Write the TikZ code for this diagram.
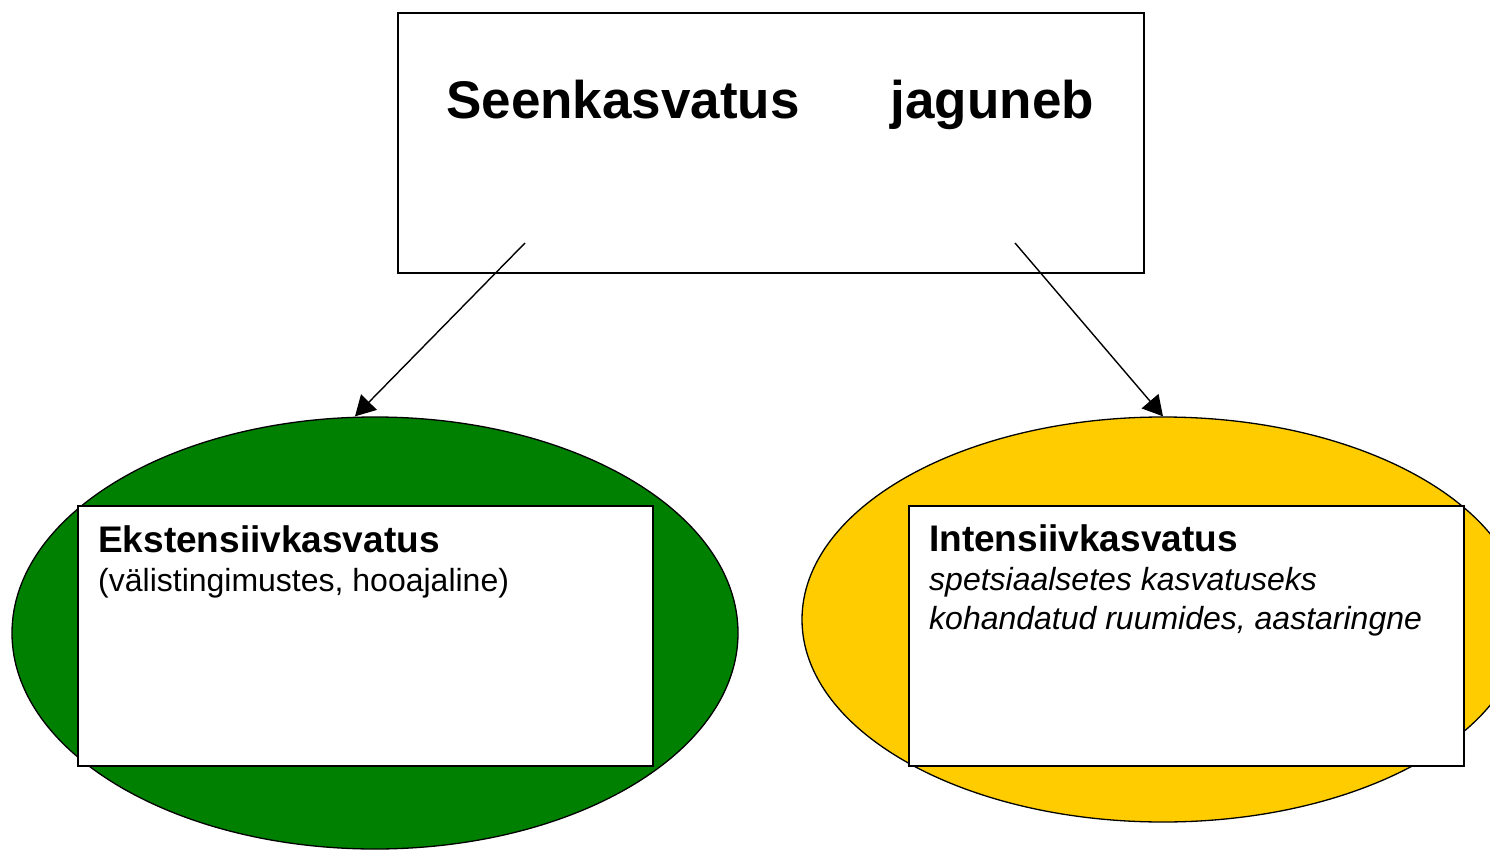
\documentclass[tikz,border=0pt]{standalone}
\usepackage{fontspec}
\setmainfont{Liberation Sans}
\usetikzlibrary{arrows.meta,shapes.geometric}
\definecolor{leafgreen}{HTML}{008000}
\definecolor{sunyellow}{HTML}{FFCC00}
\tikzset{
  boxframe/.style={draw=black,line width=1.6pt,fill=white,rectangle,inner sep=0pt,anchor=north west},
  blob/.style={draw=black,line width=1.3pt,ellipse,inner sep=0pt},
  link/.style={line width=1.4pt,-{Triangle[length=20pt,width=22pt]}},
  bodytext/.style={anchor=base west,inner sep=0pt,align=left,font=\fontsize{32}{39}\selectfont},
}
\begin{document}
\begin{tikzpicture}[x=1pt,y=-1pt]
\useasboundingbox (0,0) rectangle (1490,850);
\clip (0,0) rectangle (1490,850);
% top box
\node[boxframe,minimum width=746pt,minimum height=260pt] (top) at (397,12) {};
\node[anchor=base west,inner sep=0pt,font=\fontsize{53}{60}\selectfont\bfseries] (title) at (446,119) {Seenkasvatus\hspace{91pt}jaguneb};
% ellipses
\node[blob,fill=leafgreen,minimum width=726pt,minimum height=432pt] (ext) at (375,633) {};
\node[blob,fill=sunyellow,minimum width=722pt,minimum height=405pt] (int) at (1163,619.5) {};
% connectors
\coordinate (s1) at (525,243);
\coordinate (s2) at (1015,243);
\draw[link] (s1) -- (ext.north -| 355,0);
\draw[link] (s2) -- (int.north);
% inner boxes
\node[boxframe,minimum width=575pt,minimum height=260pt] (extbox) at (77,505) {};
\node[boxframe,minimum width=555pt,minimum height=260pt] (intbox) at (908,505) {};
\node[bodytext] (exttext) at (98,591) {{\fontsize{37}{40}\selectfont\bfseries Ekstensiivkasvatus}\\(välistingimustes, hooajaline)};
\node[bodytext] (inttext) at (929,629) {{\fontsize{37}{40}\selectfont\bfseries Intensiivkasvatus}\\\itshape spetsiaalsetes kasvatuseks\\\itshape kohandatud ruumides, aastaringne};
\end{tikzpicture}
\end{document}
